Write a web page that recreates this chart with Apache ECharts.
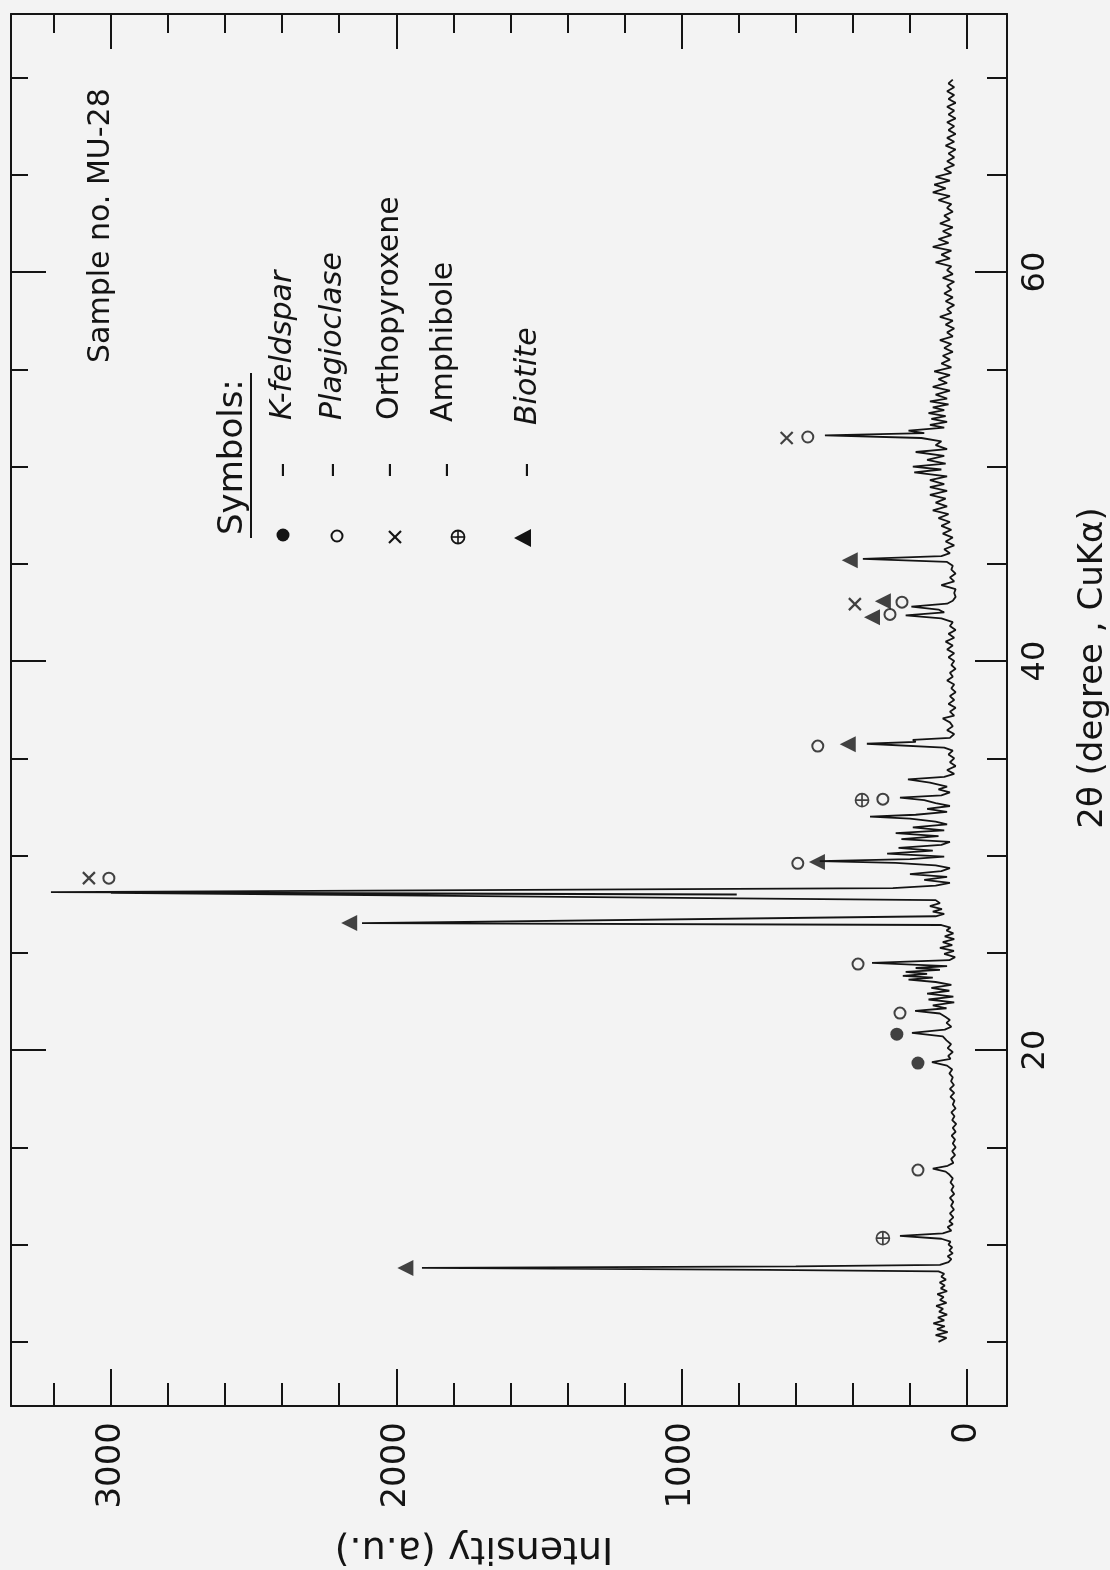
<!DOCTYPE html>
<html>
<head>
<meta charset="utf-8">
<script src="https://cdn.jsdelivr.net/npm/echarts@6/dist/echarts.min.js"></script>
<style>
html,body{margin:0;padding:0;background:#f3f3f3;}
#chart{width:1110px;height:1570px;}
</style>
</head>
<body>
<div id="chart"></div>
<script>
// ---------- DATA ----------
// XRD trace: 2θ (degree) and intensity (a.u.)
const twoTheta = [
5.0,5.2,5.35,5.5,5.65,5.8,5.95,6.1,6.25,6.4,6.55,6.7,6.85,7.0,7.15,7.3,7.45,7.6,7.75,7.9,8.05,8.2,8.35,8.5,8.62,8.7,8.8,8.88,8.96,
9.1,9.25,9.4,9.55,9.7,9.85,10.0,10.15,10.3,10.45,10.58,10.72,10.9,
11.05,11.2,11.4,11.6,11.8,12.0,12.2,12.4,12.6,12.8,13.0,13.2,13.4,13.6,13.75,13.9,14.05,
14.2,14.4,14.6,14.8,15.0,15.2,15.4,15.6,15.8,16.0,16.2,16.4,16.6,16.8,17.0,17.2,17.4,17.6,17.8,18.0,18.2,18.4,18.6,18.8,19.0,19.2,19.38,19.55,
19.7,19.9,20.1,20.3,20.5,20.7,20.88,21.05,21.2,21.4,21.55,21.7,21.88,22.02,22.15,
22.3,22.45,22.6,22.75,22.9,23.05,23.2,23.35,23.5,23.62,23.72,23.82,23.92,24.02,24.12,24.22,24.32,24.48,24.62,
24.78,24.95,25.1,25.25,25.4,25.55,25.7,25.85,26.0,26.15,26.3,26.43,26.53,26.88,
27.0,27.12,27.25,27.4,27.55,27.71,28.08,28.0,28.12,28.33,
28.45,28.6,28.75,28.9,29.05,29.2,29.35,29.5,29.62,29.72,29.82,29.95,30.1,30.25,30.4,30.55,30.7,30.85,31.0,31.15,31.3,31.45,31.6,31.75,31.9,32.0,32.1,32.25,32.4,32.55,32.7,32.85,32.98,33.1,33.25,33.4,33.55,33.75,33.92,34.05,
34.2,34.4,34.6,34.8,35.0,35.2,35.4,35.55,35.75,35.85,35.95,36.05,36.25,36.45,36.65,36.85,37.05,37.2,37.4,37.6,37.8,38.0,38.2,38.4,38.6,38.8,39.0,39.2,39.4,39.6,39.8,40.0,40.2,40.4,40.6,40.8,41.0,41.2,41.4,41.6,41.8,42.0,42.2,42.35,42.5,42.65,42.8,42.95,
43.1,43.3,43.5,43.7,43.9,44.1,44.3,44.5,44.7,44.9,45.1,45.25,45.4,45.55,45.75,45.95,46.15,46.35,46.55,46.75,46.95,47.15,47.35,47.55,47.75,47.95,48.15,48.35,48.55,48.75,48.95,49.1,49.3,49.5,49.7,49.85,50.0,50.15,50.35,50.55,50.75,50.9,51.1,51.3,51.47,51.6,51.72,51.85,52.0,
52.15,52.3,52.45,52.6,52.75,52.9,53.05,53.2,53.35,53.5,53.7,53.9,54.1,54.3,54.5,54.7,54.9,55.1,55.3,55.5,55.7,55.9,56.1,56.3,56.5,56.7,56.9,57.1,57.3,57.5,57.7,57.9,58.1,58.3,58.5,58.7,58.9,59.1,59.3,59.5,59.7,59.9,60.1,60.3,60.5,60.7,60.9,61.1,61.3,61.5,61.7,61.9,62.1,62.3,62.5,62.7,62.9,63.1,63.3,63.5,63.7,63.9,64.1,64.3,64.5,64.7,64.9,65.1,65.3,65.5,65.7,65.9,66.1,66.3,66.5,66.7,66.9,67.1,67.3,67.5,67.7,67.9,68.1,68.3,68.5,68.7,68.9,69.1,69.3,69.5,69.7,69.9
];
const intensity = [
100,72,110,68,105,78,118,80,102,70,98,84,108,72,95,82,104,70,92,78,96,74,90,80,100,700,1910,600,95,
65,55,68,50,62,52,65,58,90,235,85,55,68,
50,62,48,60,46,56,48,60,45,55,47,58,50,62,75,120,68,
48,56,42,52,40,50,42,54,40,50,38,52,44,55,40,50,44,58,45,60,46,56,50,62,52,70,123,58,
66,50,68,56,72,85,193,78,55,72,60,75,95,182,72,
120,45,135,48,140,62,125,55,110,205,120,225,140,215,95,180,70,333,62,
42,80,46,95,52,85,45,78,48,72,58,90,2120,110,
80,120,88,130,95,110,3000,807,3210,260,
110,60,150,70,200,90,60,110,250,516,200,80,280,120,240,90,60,230,100,250,80,190,70,110,200,340,180,70,140,60,110,150,235,90,60,100,70,130,207,80,
45,70,40,60,45,65,50,80,351,180,190,60,45,70,50,60,85,45,60,40,65,45,60,40,55,45,70,50,60,40,55,45,65,45,70,50,75,45,65,40,60,50,90,215,80,100,195,70,
50,40,45,40,90,45,60,40,55,50,70,365,90,60,80,45,75,50,85,55,90,60,100,65,120,70,110,75,130,70,130,80,130,70,185,90,190,75,140,80,180,70,110,90,160,498,150,205,80,
130,70,125,75,135,80,120,65,130,70,110,60,120,70,100,60,115,55,90,60,85,50,80,55,95,50,70,45,75,50,95,55,70,45,75,50,80,55,70,45,85,50,70,55,110,60,90,55,120,65,100,55,85,50,95,60,80,50,70,55,100,60,120,75,115,60,110,55,80,45,70,45,65,40,75,45,70,40,65,45,70,40,65,45,70,40,65,45,70,45,65,50
];

// Mineral symbols placed on the peaks (2θ, intensity)
const kFeldsparTheta = [19.33, 20.82];
const kFeldsparIntensity = [172, 246];
const plagioclaseTheta = [13.83, 21.9, 24.42, 28.84, 29.6, 32.9, 35.63, 42.4, 43.03, 51.52];
const plagioclaseIntensity = [172, 235, 382, 3007, 593, 295, 523, 270, 228, 558];
const orthopyroxeneTheta = [28.84, 42.93, 51.47];
const orthopyroxeneIntensity = [3077, 393, 632];
const amphiboleTheta = [10.33, 32.85];
const amphiboleIntensity = [295, 368];
const biotiteTheta = [8.79, 26.53, 29.67, 35.73, 42.26, 43.08, 45.19];
const biotiteIntensity = [1968, 2165, 526, 418, 333, 295, 411];

// Ticks
const intensityMajorTicks = [0, 1000, 2000, 3000];
const intensityMinorTicks = [200, 400, 600, 800, 1200, 1400, 1600, 1800, 2200, 2400, 2600, 2800, 3200];
const thetaMajorTicks = [20, 40, 60];
const thetaMinorTicks = [5, 10, 15, 25, 30, 35, 45, 50, 55, 65, 70];

const legendNames = ['K-feldspar', 'Plagioclase', 'Orthopyroxene', 'Amphibole', 'Biotite'];

// ---------- CHART ----------
const INK = '#141414';
const FONT = '"DejaVu Sans", sans-serif';
const chart = echarts.init(document.getElementById('chart'), null, {renderer: 'canvas'});

const pairs = (xs, ys) => xs.map((t, i) => [ys[i], t]);
const plain = v => String(v);

const xBase = {type: 'value', inverse: true, min: -140, max: 3350, splitLine: {show: false}, gridIndex: 0};
const yBase = {type: 'value', min: 1.7, max: 73.27, splitLine: {show: false}, gridIndex: 0};
const lineSt = {color: INK, width: 2};

function tick(values, len) {
  return {show: true, inside: true, length: len, customValues: values, lineStyle: {color: INK, width: 2}};
}

const xAxis = [
  Object.assign({}, xBase, {
    position: 'bottom',
    axisLine: {show: true, onZero: false, lineStyle: lineSt},
    axisTick: tick(intensityMajorTicks, 37),
    axisLabel: {show: true, customValues: intensityMajorTicks, rotate: 90, margin: 16, formatter: plain,
      fontSize: 34, fontFamily: FONT, color: INK}
  }),
  Object.assign({}, xBase, {
    position: 'bottom', axisLine: {show: false, onZero: false},
    axisTick: tick(intensityMinorTicks, 23), axisLabel: {show: false}
  }),
  Object.assign({}, xBase, {
    position: 'top', axisLine: {show: true, onZero: false, lineStyle: lineSt},
    axisTick: tick(intensityMajorTicks, 35), axisLabel: {show: false}
  }),
  Object.assign({}, xBase, {
    position: 'top', axisLine: {show: false, onZero: false},
    axisTick: tick(intensityMinorTicks, 19), axisLabel: {show: false}
  })
];

const yAxis = [
  Object.assign({}, yBase, {
    position: 'right',
    axisLine: {show: true, onZero: false, lineStyle: lineSt},
    axisTick: tick(thetaMajorTicks, 32),
    axisLabel: {show: true, customValues: thetaMajorTicks, rotate: 90, margin: 13, formatter: plain,
      fontSize: 32, fontFamily: FONT, color: INK}
  }),
  Object.assign({}, yBase, {
    position: 'right', axisLine: {show: false, onZero: false},
    axisTick: tick(thetaMinorTicks, 20), axisLabel: {show: false}
  }),
  Object.assign({}, yBase, {
    position: 'left', axisLine: {show: true, onZero: false, lineStyle: lineSt},
    axisTick: tick(thetaMajorTicks, 35), axisLabel: {show: false}
  }),
  Object.assign({}, yBase, {
    position: 'left', axisLine: {show: false, onZero: false},
    axisTick: tick(thetaMinorTicks, 17), axisLabel: {show: false}
  })
];

const crossPath = 'path://M0,0 L10,10 M10,0 L0,10';
const oplusPath = 'path://M10,0 A10,10 0 1,1 9.99,0 Z M10,0 L10,20 M0,10 L20,10';

function markerSeries(name, th, inten, extra) {
  return Object.assign({
    name: name, type: 'scatter', xAxisIndex: 0, yAxisIndex: 0,
    data: pairs(th, inten), silent: true, z: 5
  }, extra);
}

// rotated text helper for graphic annotations (reads bottom-to-top)
function vtext(x, y, text, size, italic, align) {
  return {
    type: 'text', x: x, y: y, rotation: Math.PI / 2, silent: true,
    style: {
      text: text, fill: INK, fontSize: size, fontFamily: FONT,
      fontStyle: italic ? 'italic' : 'normal',
      align: align || 'left', verticalAlign: 'middle',
      textAlign: align || 'left', textVerticalAlign: 'middle'
    }
  };
}

const rowX = [283, 333, 390, 444, 528];
const rowY = [420, 420, 420, 422, 425];
const italics = [true, true, false, false, true];
const dashX = [283, 333, 390, 447, 527];

const graphic = [
  // axis titles
  vtext(1093, 668, '2θ (degree , CuKα)', 34, false, 'center'),
  {
    type: 'text', x: 474, y: 1548, rotation: Math.PI, silent: true,
    style: {text: 'Intensity (a.u.)', fill: INK, fontSize: 38, fontFamily: FONT,
      align: 'center', verticalAlign: 'middle', textAlign: 'center', textVerticalAlign: 'middle'}
  },
  vtext(101, 363, 'Sample no. MU-28', 30, false, 'left'),
  vtext(233, 535, 'Symbols:', 34, false, 'left'),
  {type: 'line', silent: true, shape: {x1: 251, y1: 373, x2: 251, y2: 538}, style: {stroke: INK, lineWidth: 2}},
  // legend symbols
  {type: 'circle', silent: true, shape: {cx: 283, cy: 535, r: 6.5}, style: {fill: INK}},
  {type: 'circle', silent: true, shape: {cx: 337, cy: 536, r: 5.5}, style: {fill: 'none', stroke: INK, lineWidth: 2}},
  {type: 'line', silent: true, shape: {x1: 389, y1: 531, x2: 401, y2: 543}, style: {stroke: INK, lineWidth: 2.2}},
  {type: 'line', silent: true, shape: {x1: 401, y1: 531, x2: 389, y2: 543}, style: {stroke: INK, lineWidth: 2.2}},
  {type: 'circle', silent: true, shape: {cx: 458, cy: 537, r: 6.5}, style: {fill: 'none', stroke: INK, lineWidth: 1.8}},
  {type: 'line', silent: true, shape: {x1: 451.5, y1: 537, x2: 464.5, y2: 537}, style: {stroke: INK, lineWidth: 1.6}},
  {type: 'line', silent: true, shape: {x1: 458, y1: 530.5, x2: 458, y2: 543.5}, style: {stroke: INK, lineWidth: 1.6}},
  {type: 'polygon', silent: true, shape: {points: [[514, 538], [531, 529], [531, 547]]}, style: {fill: INK}}
];
legendNames.forEach((n, i) => {
  graphic.push(vtext(rowX[i], rowY[i], n, 30, italics[i], 'left'));
  graphic.push(vtext(dashX[i], 470, '–', 30, false, 'center'));
});

const option = {
  backgroundColor: '#f3f3f3',
  animation: false,
  grid: {left: 11, right: 103, top: 14, bottom: 164, containLabel: false, outerBoundsMode: 'none'},
  xAxis: xAxis,
  yAxis: yAxis,
  series: [
    {
      name: 'MU-28', type: 'line', xAxisIndex: 0, yAxisIndex: 0,
      data: pairs(twoTheta, intensity),
      showSymbol: false, symbol: 'none', silent: true,
      lineStyle: {color: INK, width: 1.8}
    },
    markerSeries('K-feldspar', kFeldsparTheta, kFeldsparIntensity,
      {symbol: 'circle', symbolSize: 13, itemStyle: {color: INK}}),
    markerSeries('Plagioclase', plagioclaseTheta, plagioclaseIntensity,
      {symbol: 'circle', symbolSize: 11, itemStyle: {color: 'rgba(0,0,0,0)', borderColor: INK, borderWidth: 2}}),
    markerSeries('Orthopyroxene', orthopyroxeneTheta, orthopyroxeneIntensity,
      {symbol: crossPath, symbolSize: 12, itemStyle: {color: 'rgba(0,0,0,0)', borderColor: INK, borderWidth: 2.2}}),
    markerSeries('Amphibole', amphiboleTheta, amphiboleIntensity,
      {symbol: oplusPath, symbolSize: 13, itemStyle: {color: 'rgba(0,0,0,0)', borderColor: INK, borderWidth: 1.7}}),
    markerSeries('Biotite', biotiteTheta, biotiteIntensity,
      {symbol: 'triangle', symbolSize: [16, 16], symbolRotate: 90, itemStyle: {color: INK}})
  ],
  graphic: graphic
};
chart.setOption(option);
</script>
</body>
</html>
